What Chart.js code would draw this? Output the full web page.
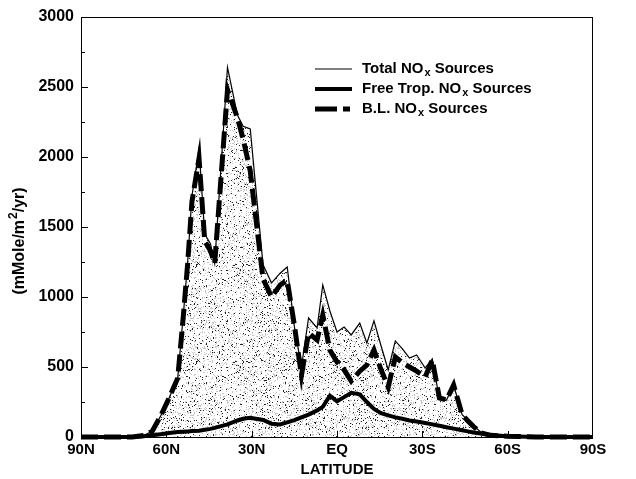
<!DOCTYPE html>
<html>
<head>
<meta charset="utf-8">
<script src="https://cdn.jsdelivr.net/npm/chart.js@4.4.0/dist/chart.umd.min.js"></script>
<style>
  html, body { margin: 0; padding: 0; background: #fff; }
</style>
</head>
<body>
<canvas id="chart" width="636" height="479"></canvas>
<script>
// latitude grid, north positive
const latitudes = [90, 72, 68, 65, 62, 59, 56, 54, 52.5, 51, 48.5, 46.5, 44.5, 43, 38.5, 35, 33, 30.5, 26, 23,
  20, 17.5, 15, 12.5, 10, 7, 5, 2.5, 0, -2.5, -5, -8, -10.5, -13, -15.5, -18, -20.5, -23, -25.5, -28,
  -31, -33.5, -36, -38.5, -41, -44, -46, -48, -50.5, -54, -60, -70, -90];

// mMole/m2/yr
const totalNox = [0, 0, 10, 40, 150, 280, 420, 880, 1250, 1720, 2060, 1450, 1380, 1240, 2640, 2300, 2220, 2200, 1230, 1100,
  1170, 1214, 790, 500, 850, 780, 1086, 900, 750, 786, 729, 814, 671, 829, 650, 479, 686, 630, 564, 586,
  493, 557, 271, 264, 371, 160, 120, 80, 36, 15, 8, 0, 0];
const freeTropNox = [0, 0, 5, 12, 20, 28, 35, 38, 40, 42, 45, 52, 58, 65, 90, 118, 130, 138, 122, 95,
  90, 105, 120, 140, 160, 190, 215, 295, 255, 285, 315, 305, 250, 200, 170, 155, 140, 130, 118, 110,
  100, 90, 80, 70, 60, 48, 40, 32, 25, 15, 6, 0, 0];
const blNox = [0, 0, 10, 40, 150, 280, 420, 870, 1240, 1680, 1990, 1400, 1330, 1240, 2480, 2280, 2130, 1900, 1130, 1000,
  1086, 1120, 800, 440, 743, 693, 871, 621, 536, 480, 400, 470, 514, 621, 480, 357, 571, 530, 500, 470,
  429, 550, 279, 264, 371, 160, 115, 75, 30, 12, 5, 0, 0];

const latTicks = [90, 60, 30, 0, -30, -60, -90];
const latTickLabels = ['90N', '60N', '30N', 'EQ', '30S', '60S', '90S'];

// legend rows: text before subscript, subscript, text after
const legendRows = [
  ['Total NO', 'x', ' Sources'],
  ['Free Trop. NO', 'x', ' Sources'],
  ['B.L. NO', 'x', ' Sources']
];
// y title: text, superscript, text
const yTitle = ['(mMole/m', '2', '/yr)'];

const FONT = '"Liberation Sans", Arial, Helvetica, sans-serif';
Chart.defaults.font.family = FONT;
Chart.defaults.color = '#000';

function pts(vals) {
  return latitudes.map((lat, i) => ({ x: lat, y: vals[i] }));
}

// grainy grey fill, like a printed stipple screen
function stipple() {
  const n = 97;
  const c = document.createElement('canvas');
  c.width = n; c.height = n;
  const g = c.getContext('2d');
  g.fillStyle = '#fff';
  g.fillRect(0, 0, n, n);
  for (let i = 0; i < n; i++) {
    for (let j = 0; j < n; j++) {
      let h = Math.imul(i * n + j + 1, 0x9E3779B1);
      h ^= h >>> 15;
      h = Math.imul(h, 0x85EBCA6B);
      h ^= h >>> 13;
      h = Math.imul(h, 0xC2B2AE35);
      h = (h ^ (h >>> 16)) >>> 0;
      const r = h % 100;
      if (r < 6) { g.fillStyle = '#222'; g.fillRect(i, j, 1, 1); }
      else if (r < 20) { g.fillStyle = '#c4c4c4'; g.fillRect(i, j, 1, 1); }
    }
  }
  return g.createPattern(c, 'repeat');
}

// draws a run of text pieces, the middle one shifted and smaller
function drawPieces(ctx, parts, x, y, big, small, shift) {
  let cx = x;
  ctx.font = 'bold ' + big + 'px ' + FONT;
  ctx.fillText(parts[0], cx, y);
  cx += ctx.measureText(parts[0]).width + 1;
  ctx.font = 'bold ' + small + 'px ' + FONT;
  ctx.fillText(parts[1], cx, y + shift);
  cx += ctx.measureText(parts[1]).width;
  ctx.font = 'bold ' + big + 'px ' + FONT;
  ctx.fillText(parts[2], cx, y);
}

function piecesWidth(ctx, parts, big, small) {
  ctx.font = 'bold ' + big + 'px ' + FONT;
  let w = ctx.measureText(parts[0]).width + ctx.measureText(parts[2]).width + 1;
  ctx.font = 'bold ' + small + 'px ' + FONT;
  return w + ctx.measureText(parts[1]).width;
}

// box, inward ticks, y title and the legend
const frame = {
  id: 'frame',
  afterDraw(chart) {
    const { ctx, chartArea: a, scales: { x, y } } = chart;
    ctx.save();
    ctx.strokeStyle = '#000';
    ctx.lineWidth = 1;
    ctx.strokeRect(a.left + 0.5, a.top + 0.5, a.right - a.left - 1, a.bottom - a.top);
    ctx.beginPath();
    for (let v = 250; v < 3000; v += 250) {
      const py = Math.round(y.getPixelForValue(v)) + 0.5;
      ctx.moveTo(a.left, py);
      ctx.lineTo(a.left + (v % 500 ? 4 : 7), py);
    }
    latTicks.slice(1, -1).forEach(lat => {
      const px = Math.round(x.getPixelForValue(lat)) + 0.5;
      ctx.moveTo(px, a.bottom);
      ctx.lineTo(px, a.bottom - 6);
    });
    ctx.stroke();

    ctx.fillStyle = '#000';
    ctx.textBaseline = 'middle';

    // y axis title, rotated
    ctx.save();
    ctx.translate(20, 241);
    ctx.rotate(-Math.PI / 2);
    const tw = piecesWidth(ctx, yTitle, 16, 12);
    drawPieces(ctx, yTitle, -tw / 2, 0, 16, 12, -6);
    ctx.restore();

    // legend
    const lx = a.left + 234, tx = a.left + 281;
    const styles = [
      { w: 1.2, dash: [] },
      { w: 4, dash: [] },
      { w: 5, dash: [22, 6, 7, 50] }
    ];
    legendRows.forEach((row, i) => {
      const ly = a.top + 52 + i * 20;
      ctx.beginPath();
      ctx.lineWidth = styles[i].w;
      ctx.setLineDash(styles[i].dash);
      ctx.moveTo(lx, ly);
      ctx.lineTo(lx + 37, ly);
      ctx.stroke();
      ctx.setLineDash([]);
      drawPieces(ctx, row, tx, ly, 15, 11, 4);
    });
    ctx.restore();
  }
};

new Chart(document.getElementById('chart'), {
  type: 'line',
  data: {
    datasets: [
      {
        label: 'Total NOx Sources',
        data: pts(totalNox),
        borderColor: '#000',
        borderWidth: 1.2,
        backgroundColor: stipple(),
        fill: 'origin',
        order: 3
      },
      {
        label: 'Free Trop. NOx Sources',
        data: pts(freeTropNox),
        borderColor: '#000',
        borderWidth: 4,
        fill: false,
        order: 2
      },
      {
        label: 'B.L. NOx Sources',
        data: pts(blNox),
        borderColor: '#000',
        borderWidth: 5,
        borderDash: [17, 6],
        fill: false,
        order: 1
      }
    ]
  },
  options: {
    responsive: false,
    animation: false,
    clip: 4,
    elements: { point: { radius: 0 }, line: { tension: 0 } },
    layout: { padding: { top: 17, right: 43, left: 0, bottom: 0 } },
    plugins: {
      legend: { display: false },
      tooltip: { enabled: false },
      filler: { drawTime: 'beforeDatasetsDraw' }
    },
    scales: {
      x: {
        type: 'linear',
        min: -90,
        max: 90,
        reverse: true,
        afterBuildTicks(scale) {
          scale.ticks = latTicks.map(v => ({ value: v }));
        },
        afterFit(scale) { scale.height = 42; },
        ticks: {
          autoSkip: false,
          maxRotation: 0,
          padding: 4,
          font: { size: 15, weight: 'bold' },
          callback: v => latTickLabels[latTicks.indexOf(v)]
        },
        grid: { display: false, drawTicks: false },
        border: { display: false },
        title: { display: true, text: 'LATITUDE', font: { size: 15, weight: 'bold' }, padding: { bottom: 0 } }
      },
      y: {
        min: 0,
        max: 3000,
        afterFit(scale) { scale.width = 81; },
        ticks: { stepSize: 500, padding: 7, font: { size: 16, weight: 'bold' }, callback: v => String(v) },
        grid: { display: false, drawTicks: false },
        border: { display: false }
      }
    }
  },
  plugins: [frame]
});
</script>
</body>
</html>
